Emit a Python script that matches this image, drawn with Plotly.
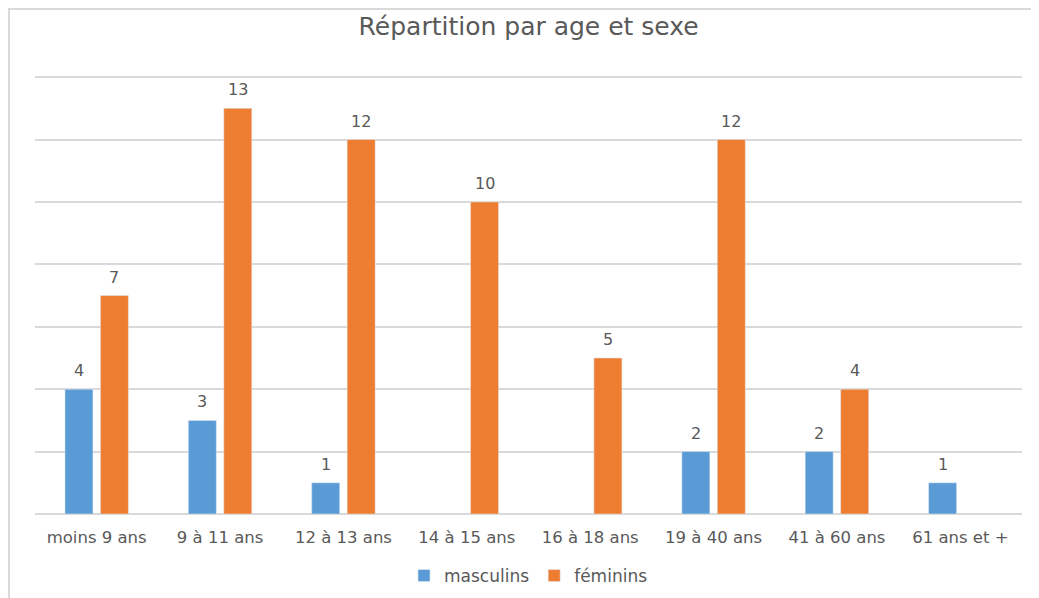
import plotly.graph_objects as go

categories = ["moins 9 ans", "9 à 11 ans", "12 à 13 ans", "14 à 15 ans",
              "16 à 18 ans", "19 à 40 ans", "41 à 60 ans", "61 ans et +"]
masculins = [4, 3, 1, None, None, 2, 2, 1]
feminins = [7, 13, 12, 10, 5, 12, 4, None]

# page has an 8px body margin, so the figure is sized to fit the window
W, H = 1031, 590
L, R, T, B = 27, 17, 66, 84
pw, ph = W - L - R, H - T - B

text_col = "#595959"
grid_col = "#d9d9d9"
FONT = "DejaVu Sans"
BARGAP, GROUPGAP = 0.425, 0.21

fig = go.Figure()
fig.add_trace(go.Bar(x=categories, y=masculins, name="masculins",
                     marker=dict(color="#5B9BD5")))
fig.add_trace(go.Bar(x=categories, y=feminins, name="féminins",
                     marker=dict(color="#ED7D31")))

# value labels above each bar (offset to each bar of the group)
slot_px = pw / len(categories) * (1 - BARGAP) / 2
for series, sign in ((masculins, -1), (feminins, 1)):
    for cat, v in zip(categories, series):
        if v is None:
            continue
        fig.add_annotation(x=cat, y=v, text=str(v), showarrow=False,
                           xshift=sign * slot_px / 2, yshift=7,
                           yanchor="bottom", xanchor="center",
                           font=dict(size=16, color=text_col, family=FONT))

# outer chart border
fig.add_shape(type="rect", xref="paper", yref="paper",
              x0=(1 - L) / pw, x1=(W + 5 - L) / pw,
              y0=-(H + 10 - (H - B)) / ph, y1=(H - B - 1) / ph,
              line=dict(color=grid_col, width=2), fillcolor="rgba(0,0,0,0)",
              layer="below")

fig.update_layout(
    width=W, height=H,
    margin=dict(l=L, r=R, t=T, b=B, autoexpand=False),
    paper_bgcolor="white", plot_bgcolor="white",
    barmode="group", bargap=BARGAP, bargroupgap=GROUPGAP,
    title=dict(text="Répartition par age et sexe", x=0.505, xanchor="center",
               y=1 - 18 / H, yanchor="middle",
               font=dict(size=25, color=text_col, family=FONT)),
    font=dict(family=FONT, color=text_col),
    xaxis=dict(showgrid=False, showline=False, ticks="",
               tickfont=dict(size=16.5, color=text_col, family=FONT),
               ticklabelstandoff=11),
    yaxis=dict(range=[0, 14.1], tickvals=[2, 4, 6, 8, 10, 12, 14],
               showticklabels=False,
               showgrid=True, gridcolor=grid_col, gridwidth=1.5,
               zeroline=True, zerolinecolor=grid_col, zerolinewidth=1.5,
               showline=False),
    legend=dict(orientation="h", x=0.5, xanchor="center",
                y=-(568 - (H - B)) / ph, yanchor="middle",
                font=dict(size=17, color=text_col, family=FONT),
                itemwidth=30),
    showlegend=True,
)

fig.write_html("out.html")
